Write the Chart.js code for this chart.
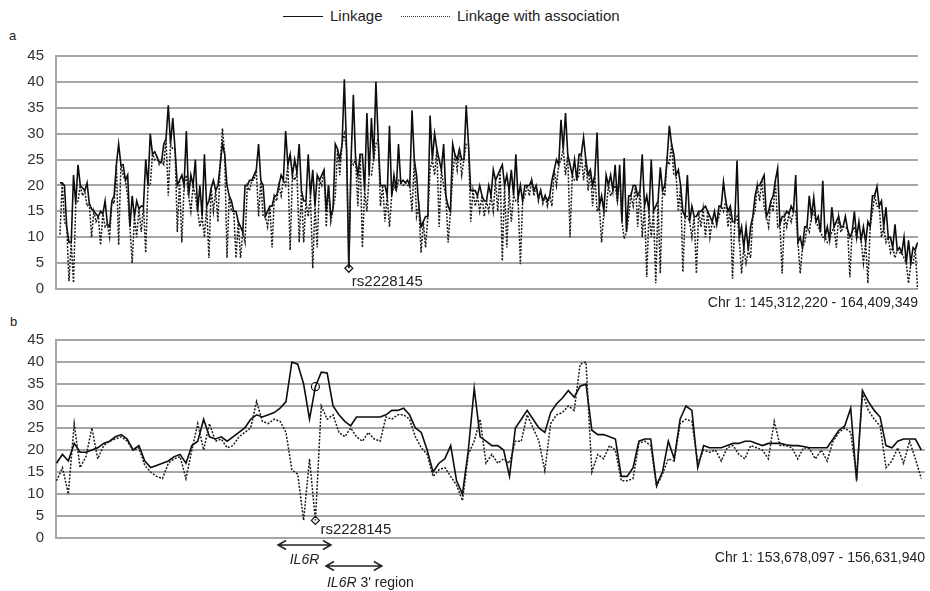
<!DOCTYPE html>
<html lang="en">
<head>
  <meta charset="UTF-8">
  <title>Linkage</title>
  <script src="https://cdn.jsdelivr.net/npm/chart.js"></script>
  <style>
    body { margin: 0; background: #fff; font-family: "Liberation Sans", Arial, sans-serif; color: #222; }
    #wrap { position: relative; width: 930px; height: 591px; }
    canvas, .t { position: absolute; }
    .t { font-size: 15px; white-space: nowrap; }
    .ln { position: absolute; width: 40px; height: 0; top: 16px; }
  </style>
</head>
<body>
<div id="wrap">
  <div class="ln" style="left:283px;border-top:1px solid #111;"></div>
  <div class="t" style="left:330px;top:7px;">Linkage</div>
  <div class="ln" style="left:401px;width:49px;border-top:1px dotted #333;"></div>
  <div class="t" style="left:457px;top:7px;">Linkage with association</div>
  <div class="t" style="left:9px;top:28px;font-size:13px;">a</div>
  <div class="t" style="left:10px;top:314px;font-size:13px;">b</div>
  <canvas id="chartA" width="930" height="280" style="left:0;top:35px;"></canvas>
  <canvas id="chartB" width="930" height="272" style="left:0;top:319px;"></canvas>
  <div class="t" style="right:12px;top:294px;font-size:14px;">Chr 1: 145,312,220 - 164,409,349</div>
  <div class="t" style="right:5px;top:549px;font-size:14px;">Chr 1: 153,678,097 - 156,631,940</div>
</div>
<script>
// panel a: markers every 0.1 Mb from 145.4 (spike values), plus the
// shared core level of both curves at the half-way markers (145.45, 145.55, ...)
const startA = 145.4, stepA = 0.1;
const linkA = [
  20.5, 20, 9, 22, 24, 19.5, 20.5, 15.5, 14.5, 15,
  17, 12, 18, 28, 24, 22, 18, 17, 16, 25,
  30, 26.5, 24.5, 28, 35.5, 33, 20, 22, 30.5, 22,
  25, 20, 26, 17, 21, 20, 28, 20, 17, 15,
  12, 20, 21, 22, 28, 20, 15, 16, 18, 22,
  30.5, 26, 25, 28, 17, 26, 23,
  22, 22, 15, 14, 28, 25, 40.5, 4, 37.5,
  22, 26, 34, 33, 40, 20, 20, 31.5, 22, 28,
  21, 21, 34.5, 22, 12, 14, 33.5, 30, 25, 28,
  16, 28, 25, 25, 35.5, 19, 19, 20, 17, 20,
  23, 22, 24, 22, 23, 26, 20, 20, 20, 19,
  17.5, 17, 17, 21, 25, 32.7, 34, 24, 25, 26,
  29.3, 22, 20, 30.2, 18, 22,
  22, 24, 24, 25.3,
  18, 20, 18, 26, 18, 25, 16, 23.5, 20, 31.5,
  26, 23, 15, 22, 16, 14, 15, 16, 14, 15,
  16, 20.7, 15, 13, 24.8, 12, 12, 12, 18, 20,
  22, 15, 18, 23.3, 14, 15, 16, 22, 10, 12,
  18, 17.7, 14, 20.9, 12, 15.8, 13, 12, 14, 10,
  15, 13, 12, 13, 18, 19.8, 17, 15.8, 10, 12.5,
  8, 10, 9.4, 8, 9
];
const assocA = [
  10.5, 13, 1.5, 1.2, 17, 18, 16, 10, 13, 8.5,
  12, 10, 16.5, 8.5, 22, 18, 5, 10, 11, 7,
  20, 25, 24, 24, 18, 27, 11, 9, 22, 15,
  18, 12, 10, 6, 15, 13, 31, 6, 15, 6,
  6, 9, 19, 21, 14, 14, 12, 8, 17, 18,
  20, 7.5, 21, 9, 9, 14, 4,
  8, 20, 12, 13, 18, 22, 30, 4, 24,
  16, 8, 15, 22, 28, 16, 13, 12, 20, 21,
  20, 20, 15, 14, 7, 8, 23, 22, 12, 20,
  9, 22, 23, 22, 28, 13, 16, 15, 14, 15,
  15, 15, 5.4, 8, 13, 17, 4.8, 18, 18, 18,
  17, 16.5, 16, 16, 20, 25, 22, 10, 21, 22,
  21, 19, 16, 15, 9, 15,
  18, 20, 22, 9.7,
  14, 16, 12, 10, 2.3, 10, 1.1, 3, 18, 24,
  22, 15, 3.3, 14, 10, 3, 12, 10, 10, 12,
  14, 15, 12, 2, 14, 3, 5, 6, 15, 17,
  16, 12, 15, 12, 3, 12, 13, 15, 3, 9,
  11, 15, 12, 10, 9, 11, 8, 11, 12, 2.3,
  12, 10, 5, 1.1, 15, 16, 10, 9, 7, 6,
  7, 6, 1.1, 5, 0
];
const coreA = [
  20.5, 12, 9, 16.5, 20, 19, 16.5, 15, 14, 14.5,
  12.5, 17, 24, 24, 21, 12, 14, 15.5, 16, 20,
  26, 25.5, 24.5, 29, 28, 27, 21, 20, 18, 20,
  15, 14, 16, 19.5, 19, 24, 26, 18, 15, 13,
  11, 20, 21, 23, 21, 14, 16, 18, 20, 21,
  24, 22, 22.5, 19, 17, 18, 16, 21, 23, 20, 15.5,
  27, 28, 27, 25, 25, 26, 19, 22, 25, 29,
  20, 18, 18, 19, 20.5, 20.5, 20, 25, 16, 13,
  14, 25, 27, 23, 18, 15, 26, 27, 25, 28,
  19, 18, 18, 17, 18, 21, 23, 20, 19, 18,
  17.5, 17, 20, 21, 20, 19, 18, 18, 23, 24,
  27, 26, 22, 21, 26, 25, 23, 22, 16, 15,
  20, 19, 17, 13, 11,
  18, 20, 19, 16, 15, 15, 17, 19, 25, 28,
  22, 20, 14, 13, 14, 15, 15.5, 15, 13, 12.5,
  16, 17, 16, 13, 10, 8, 7.5, 14, 20, 21,
  14, 17, 21, 12.5, 14, 14.5, 15, 9, 8, 12,
  14, 13, 11, 10, 9.5, 12, 14, 12, 11.5, 11,
  10, 9.5, 9, 12, 18, 16, 12, 10, 8, 7.5,
  7, 5, 5, 7.5
];

// panel b: zoom on IL6R, marker every 0.02 Mb from 153.68
const startB = 153.68, stepB = 0.02;
const linkB = [
  17, 19, 17.5, 21.5, 19.5, 19.5, 20, 20.5, 21.5, 22,
  23, 23.5, 22.5, 20, 21, 17.5, 16, 16.5, 17, 17.5,
  18.5, 19, 17, 21, 22, 27, 23, 22.5, 23, 22,
  23, 24, 25, 27, 28, 27.5, 28, 28.5, 29.5, 31,
  40, 39.5, 35, 27, 34.4, 37.7, 37.5, 30, 28, 26.5,
  25.5, 27.5, 27.5, 27.5, 27.5, 27.5, 28, 29, 29, 29.5,
  28, 25, 24, 20, 15, 17, 18, 21, 13, 10,
  20, 34, 23, 22, 21, 21, 20, 14, 25, 27,
  29, 27, 25, 24, 28.5, 30.5, 31.8, 33.5, 32, 34.5,
  35, 24.5, 23.5, 23.5, 23, 22.5, 14, 14, 16, 22,
  22.5, 22.5, 12, 15, 22, 18, 27, 30, 29, 16,
  21, 20.5, 20.5, 20.5, 21, 21.5, 21.5, 22, 22, 21.5,
  21, 21.5, 21.5, 21.5, 21.2, 21, 21, 20.8, 20.5, 20.5,
  20.5, 20.5, 22.5, 24.5, 25.5, 29.5, 13, 33.5, 31, 29,
  27.5, 21, 20.5, 22, 22.5, 22.5, 22.5, 20
];
const assocB = [
  13, 16, 10, 26, 16, 18.5, 25, 18, 21, 22,
  22.5, 23, 22, 20, 20.5, 16.5, 15, 14, 13.5, 17,
  18, 18.5, 13.5, 20, 26, 20, 26, 22, 22.5, 20.5,
  21, 23, 24, 25, 31, 26.5, 26, 27, 26.5, 24,
  15.5, 14.5, 4, 18, 4, 30, 27, 28, 24, 23,
  25, 23, 22, 24, 22.5, 22, 27.5, 27, 28, 28,
  27, 23, 20.5, 19, 14, 15.5, 16, 14, 12, 8.5,
  19, 22, 27, 17, 19, 17, 18, 17, 22, 22,
  28, 25, 22, 15.3, 26, 28, 28.5, 30, 29, 39.5,
  40, 15, 19, 18, 21, 20, 13, 13, 13.5, 21.5,
  22, 21, 11.7, 14.5, 18, 17.5, 26, 27, 26.5, 17,
  20, 19.5, 20, 17.5, 20.5, 21, 19, 18, 21, 20.5,
  20, 18, 26.5, 21, 21, 20.5, 18, 20.5, 20.3, 18,
  20, 17.5, 22, 24, 25, 24, 14, 33, 29, 27,
  25.5, 16, 17.5, 20.5, 17, 22, 18, 13.5
];

// rs2228145 (Mb, score)
const snpA = {x: 151.8, y: 4};
const snpB = {x: 154.56, link: 34.4, assoc: 4};
// gene arrows (Mb)
const il6r = [154.433, 154.613];
const il6r3 = [154.596, 154.786];

const FONT = '"Liberation Sans", Arial, sans-serif';

function toPoints(vals, start, step) {
  return vals.map((v, i) => ({x: +(start + i * step).toFixed(3), y: v}));
}

// markers at start + i*step take vals[i]; half-way markers take core[i]
function withCore(vals, core, start, step) {
  const pts = [];
  vals.forEach((v, i) => {
    pts.push({x: +(start + i * step).toFixed(3), y: v});
    if (i < core.length) pts.push({x: +(start + (i + 0.5) * step).toFixed(3), y: core[i]});
  });
  return pts;
}

function arrow(ctx, x1, x2, y) {
  ctx.beginPath();
  ctx.moveTo(x1, y); ctx.lineTo(x2, y);
  ctx.moveTo(x1 + 8, y - 4.5); ctx.lineTo(x1, y); ctx.lineTo(x1 + 8, y + 4.5);
  ctx.moveTo(x2 - 8, y - 4.5); ctx.lineTo(x2, y); ctx.lineTo(x2 - 8, y + 4.5);
  ctx.stroke();
}

const notes = {
  id: 'notes',
  afterDraw(chart, args, opts) {
    const {ctx, chartArea} = chart;
    const x = chart.scales.x, y = chart.scales.y;
    ctx.save();
    ctx.fillStyle = '#222';
    ctx.strokeStyle = '#222';
    ctx.lineWidth = 1.5;
    ctx.textBaseline = 'middle';
    ctx.font = '15px ' + FONT;
    (opts.labels || []).forEach(l => {
      ctx.fillText(l.text, x.getPixelForValue(l.x) + l.dx, y.getPixelForValue(l.y) + l.dy);
    });
    (opts.arrows || []).forEach(a => {
      const x1 = x.getPixelForValue(a.from), x2 = x.getPixelForValue(a.to);
      const ya = chartArea.bottom + a.dy;
      arrow(ctx, x1, x2, ya);
      ctx.font = 'italic 14px ' + FONT;
      const w = ctx.measureText(a.gene).width;
      const w2 = a.rest ? (ctx.font = '14px ' + FONT, ctx.measureText(a.rest).width) : 0;
      const tx = a.center ? (x1 + x2) / 2 - (w + w2) / 2 : x1 + 1;
      const ty = chartArea.bottom + a.textDy;
      ctx.font = 'italic 14px ' + FONT;
      ctx.fillText(a.gene, tx, ty);
      if (a.rest) {
        ctx.font = '14px ' + FONT;
        ctx.fillText(a.rest, tx + w, ty);
      }
    });
    ctx.restore();
  }
};

function lineSet(label, pts, dotted) {
  return {
    label: label,
    data: pts,
    borderColor: dotted ? '#1a1a1a' : '#0d0d0d',
    borderWidth: dotted ? 1.5 : 1.6,
    borderDash: dotted ? [2, 1.5] : [],
    pointRadius: 0,
    tension: 0,
    fill: false
  };
}

function marker(pt, style) {
  return {
    label: 'rs2228145',
    data: [pt],
    showLine: false,
    pointStyle: style,
    pointRadius: 4,
    pointBackgroundColor: '#fff',
    pointBorderColor: '#111',
    pointBorderWidth: 1.2
  };
}

function makeConfig(datasets, xmin, xmax, padRight, padBottom, noteOpts) {
  return {
    type: 'line',
    data: {datasets: datasets},
    options: {
      responsive: false,
      animation: false,
      events: [],
      layout: {padding: {left: 0, right: padRight, top: 10, bottom: padBottom}},
      scales: {
        x: {type: 'linear', min: xmin, max: xmax, display: false},
        y: {
          min: 0, max: 45,
          afterFit: s => { s.width = 56; },
          border: {display: true, color: '#a6a6a6', width: 2},
          grid: {color: '#a6a6a6', lineWidth: 2, drawTicks: false},
          ticks: {stepSize: 5, padding: 12, color: '#333', font: {family: FONT, size: 15}}
        }
      },
      plugins: {legend: {display: false}, tooltip: {enabled: false}, notes: noteOpts}
    },
    plugins: [notes]
  };
}

const chartA = new Chart(document.getElementById('chartA'), makeConfig([
  lineSet('Linkage with association', withCore(assocA, coreA, startA, stepA), true),
  lineSet('Linkage', withCore(linkA, coreA, startA, stepA), false),
  marker(snpA, 'rectRot')
], 145.312220, 164.409349, 12, 26, {
  labels: [{text: 'rs2228145', x: snpA.x, y: snpA.y, dx: 3, dy: 14}]
}));

const chartB = new Chart(document.getElementById('chartB'), makeConfig([
  lineSet('Linkage with association', toPoints(assocB, startB, stepB), true),
  lineSet('Linkage', toPoints(linkB, startB, stepB), false),
  marker({x: snpB.x, y: snpB.link}, 'circle'),
  marker({x: snpB.x, y: snpB.assoc}, 'rectRot')
], 153.678097, 156.631940, 5, 53, {
  labels: [{text: 'rs2228145', x: snpB.x, y: snpB.assoc, dx: 5, dy: 9}],
  arrows: [
    {from: il6r[0], to: il6r[1], dy: 7, textDy: 22, gene: 'IL6R', rest: '', center: true},
    {from: il6r3[0], to: il6r3[1], dy: 28, textDy: 45, gene: 'IL6R', rest: " 3' region", center: false}
  ]
}));
</script>
</body>
</html>
